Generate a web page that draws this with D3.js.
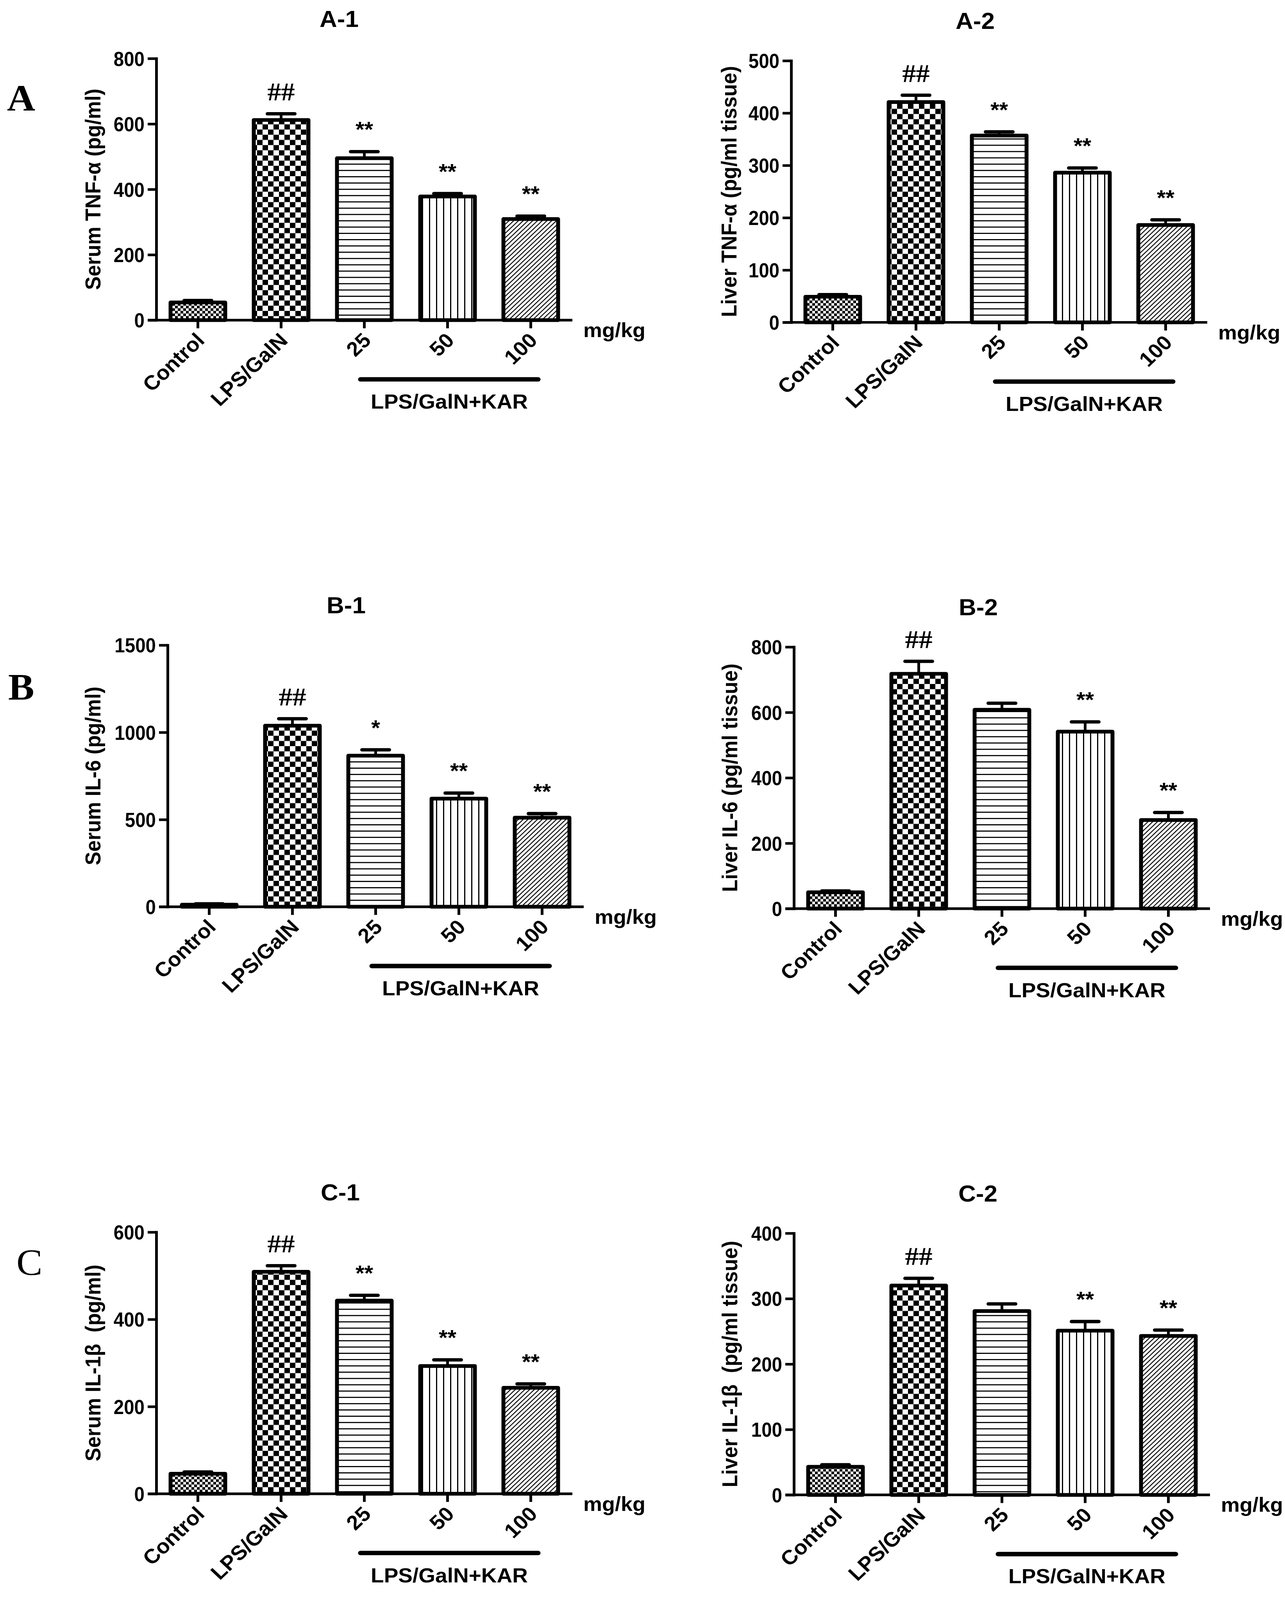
<!DOCTYPE html>
<html>
<head>
<meta charset="utf-8">
<script src="https://cdn.jsdelivr.net/npm/d3@7"></script>
<style>
  html, body { margin: 0; padding: 0; background: #fff; overflow: hidden; }
  svg { display: block; }
</style>
</head>
<body>
<div id="fig"></div>
<script>

// groups on the x axis (same for every panel)
var groups = ["Control", "LPS/GalN", "25", "50", "100"];

// A-1 serum TNF-a
var a1Mean = [54, 612, 495, 378, 309];
var a1Sem  = [6, 19, 20, 9, 9];
var a1Sig  = ["", "##", "**", "**", "**"];
var a1Ticks = [0, 200, 400, 600, 800];

// A-2 liver TNF-a
var a2Mean = [49, 421, 357, 286, 186];
var a2Sem  = [4, 13, 7, 9, 10];
var a2Sig  = ["", "##", "**", "**", "**"];
var a2Ticks = [0, 100, 200, 300, 400, 500];

// B-1 serum IL-6
var b1Mean = [12, 1038, 866, 620, 511];
var b1Sem  = [5, 40, 34, 32, 23];
var b1Sig  = ["", "##", "*", "**", "**"];
var b1Ticks = [0, 500, 1000, 1500];

// B-2 liver IL-6
var b2Mean = [50, 718, 608, 541, 271];
var b2Sem  = [4, 38, 20, 30, 23];
var b2Sig  = ["", "##", "", "**", "**"];
var b2Ticks = [0, 200, 400, 600, 800];

// C-1 serum IL-1b
var c1Mean = [46, 509, 443, 293, 243];
var c1Sem  = [4, 14, 12, 14, 9];
var c1Sig  = ["", "##", "**", "**", "**"];
var c1Ticks = [0, 200, 400, 600];

// C-2 liver IL-1b
var c2Mean = [43, 320, 281, 251, 243];
var c2Sem  = [3, 11, 11, 14, 9];
var c2Sig  = ["", "##", "", "**", "**"];
var c2Ticks = [0, 100, 200, 300, 400];

var fills = ["checkSmall", "checkBig", "hLines", "vLines", "diag"];

/////////////////////////////////////////////////////////////////////

var W = 3289, H = 4323;
var SANS = "'Liberation Sans', Arial, sans-serif";
var SERIF = "'Liberation Serif', 'Times New Roman', serif";

var panels = [
  { title: "A-1", ylab: "Serum TNF-\u03b1 (pg/ml)", mean: a1Mean, sem: a1Sem, sig: a1Sig, ticks: a1Ticks,
    left: 400, zero: 865, titleX: 868, ylabX: 237 },
  { title: "A-2", ylab: "Liver TNF-\u03b1 (pg/ml tissue)", mean: a2Mean, sem: a2Sem, sig: a2Sig, ticks: a2Ticks,
    left: 2025, zero: 871, titleX: 2496, ylabX: 1865 },
  { title: "B-1", ylab: "Serum IL-6 (pg/ml)", mean: b1Mean, sem: b1Sem, sig: b1Sig, ticks: b1Ticks,
    left: 429, zero: 2450, titleX: 886, ylabX: 237 },
  { title: "B-2", ylab: "Liver IL-6 (pg/ml tissue)", mean: b2Mean, sem: b2Sem, sig: b2Sig, ticks: b2Ticks,
    left: 2032, zero: 2455, titleX: 2504, ylabX: 1867 },
  { title: "C-1", ylab: "Serum IL-1\u03b2  (pg/ml)", mean: c1Mean, sem: c1Sem, sig: c1Sig, ticks: c1Ticks,
    left: 400, zero: 4036, titleX: 871, ylabX: 237 },
  { title: "C-2", ylab: "Liver IL-1\u03b2  (pg/ml tissue)", mean: c2Mean, sem: c2Sem, sig: c2Sig, ticks: c2Ticks,
    left: 2032, zero: 4039, titleX: 2503, ylabX: 1867 }
];

// the figure is laid out in 3289 x 4323 units and stretched to the visible window
var vw = window.innerWidth || W, vh = window.innerHeight || H;

var svg = d3.select("#fig").append("svg")
  .attr("width", vw)
  .attr("height", vh)
  .attr("viewBox", "0 0 " + W + " " + H)
  .attr("preserveAspectRatio", "none");

svg.append("rect").attr("width", W).attr("height", H).attr("fill", "#fff");

// fill patterns
var defs = svg.append("defs");

function checker(id, s) {
  var p = defs.append("pattern").attr("id", id)
    .attr("patternUnits", "userSpaceOnUse")
    .attr("width", 2 * s).attr("height", 2 * s);
  p.append("rect").attr("width", 2 * s).attr("height", 2 * s).attr("fill", "#fff");
  p.append("rect").attr("width", s).attr("height", s).attr("fill", "#000");
  p.append("rect").attr("x", s).attr("y", s).attr("width", s).attr("height", s).attr("fill", "#000");
}
checker("checkSmall", 7);
checker("checkBig", 14);

var ph = defs.append("pattern").attr("id", "hLines")
  .attr("patternUnits", "userSpaceOnUse").attr("width", 20).attr("height", 17);
ph.append("rect").attr("width", 20).attr("height", 17).attr("fill", "#fff");
ph.append("rect").attr("y", 0).attr("width", 20).attr("height", 3).attr("fill", "#000");

var pv = defs.append("pattern").attr("id", "vLines")
  .attr("patternUnits", "userSpaceOnUse").attr("width", 18).attr("height", 20);
pv.append("rect").attr("width", 18).attr("height", 20).attr("fill", "#fff");
pv.append("rect").attr("x", 0).attr("width", 3).attr("height", 20).attr("fill", "#000");

var pd = defs.append("pattern").attr("id", "diag")
  .attr("patternUnits", "userSpaceOnUse").attr("width", 8.6).attr("height", 20)
  .attr("patternTransform", "rotate(45)");
pd.append("rect").attr("width", 8.6).attr("height", 20).attr("fill", "#fff");
pd.append("rect").attr("x", 0).attr("width", 2.4).attr("height", 20).attr("fill", "#000");

/////////////////////////////////////////////////////////////////////

function drawPanel(p) {
  var g = svg.append("g");
  var plotH = 707, plotW = 1065;
  var max = p.ticks[p.ticks.length - 1];

  var x = d3.scaleBand()
    .domain(groups)
    .range([p.left, p.left + plotW])
    .paddingInner(0.343)
    .paddingOuter(0.1715);

  var y = d3.scaleLinear()
    .domain([0, max])
    .range([p.zero, p.zero - plotH]);

  var cx = function(i) { return x(groups[i]) + x.bandwidth() / 2; };

  // bars
  g.selectAll("rect.bar")
    .data(p.mean)
    .enter().append("rect")
    .attr("class", "bar")
    .attr("x", function(d, i) { return x(groups[i]); })
    .attr("y", function(d) { return y(d); })
    .attr("width", x.bandwidth())
    .attr("height", function(d) { return y(0) - y(d); })
    .attr("fill", function(d, i) { return "url(#" + fills[i] + ")"; })
    .attr("stroke", "#000")
    .attr("stroke-width", 10)
    .attr("stroke-linejoin", "round");

  // upper error bars
  g.selectAll("line.stem")
    .data(p.mean)
    .enter().append("line")
    .attr("x1", function(d, i) { return cx(i); })
    .attr("x2", function(d, i) { return cx(i); })
    .attr("y1", function(d) { return y(d); })
    .attr("y2", function(d, i) { return y(d + p.sem[i]); })
    .attr("stroke", "#000").attr("stroke-width", 7);

  g.selectAll("line.cap")
    .data(p.mean)
    .enter().append("line")
    .attr("x1", function(d, i) { return cx(i) - 35; })
    .attr("x2", function(d, i) { return cx(i) + 35; })
    .attr("y1", function(d, i) { return y(d + p.sem[i]); })
    .attr("y2", function(d, i) { return y(d + p.sem[i]); })
    .attr("stroke", "#000").attr("stroke-width", 9)
    .attr("stroke-linecap", "round");

  // significance marks
  g.selectAll("text.sig")
    .data(p.sig)
    .enter().append("text")
    .attr("x", function(d, i) { return cx(i); })
    .attr("y", function(d, i) {
      var top = y(p.mean[i] + p.sem[i]);
      return d == "##" ? top - 36 : top - 40;
    })
    .attr("text-anchor", "middle")
    .style("font-family", function(d) { return d == "##" ? SERIF : SANS; })
    .style("font-size", function(d) { return d == "##" ? "70px" : "58px"; })
    .style("font-weight", "bold")
    .text(function(d) { return d; });

  // y axis
  var yAxis = g.append("g")
    .attr("transform", "translate(" + p.left + ",0)")
    .call(d3.axisLeft(y).tickValues(p.ticks).tickSize(22).tickSizeOuter(0).tickFormat(d3.format("d")));
  yAxis.select(".domain").attr("stroke-width", 7).attr("stroke-linecap", "square");
  yAxis.selectAll(".tick line").attr("stroke-width", 7);
  yAxis.selectAll(".tick text")
    .attr("x", -30 / 0.88)
    .attr("dy", "0.36em")
    .attr("transform", "scale(0.88,1)")
    .style("font-family", SANS)
    .style("font-size", "54px")
    .style("font-weight", "bold")
    .attr("fill", "#000");

  // x axis
  var xAxis = g.append("g")
    .attr("transform", "translate(0," + p.zero + ")")
    .call(d3.axisBottom(x).tickSize(22).tickSizeOuter(0));
  xAxis.select(".domain").remove();
  xAxis.append("line")
    .attr("x1", p.left - 22).attr("x2", p.left + plotW)
    .attr("stroke", "#000").attr("stroke-width", 7);
  xAxis.selectAll(".tick line").attr("stroke-width", 7);
  xAxis.selectAll(".tick text")
    .attr("x", 0).attr("y", 0).attr("dy", 0)
    .attr("transform", "translate(20,58) rotate(-45)")
    .style("text-anchor", "end")
    .style("font-family", SANS)
    .style("font-size", "55px")
    .style("font-weight", "bold")
    .attr("fill", "#000");

  // unit label
  g.append("text")
    .attr("x", p.left + plotW + 28)
    .attr("y", p.zero + 46)
    .style("font-family", SANS).style("font-size", "54px").style("font-weight", "bold")
    .text("mg/kg");

  // bracket under the treated groups
  var bx1 = cx(2) - 10, bx2 = cx(4) + 19;
  g.append("line")
    .attr("x1", bx1).attr("x2", bx2)
    .attr("y1", p.zero + 160).attr("y2", p.zero + 160)
    .attr("stroke", "#000").attr("stroke-width", 12)
    .attr("stroke-linecap", "round");
  g.append("text")
    .attr("x", (bx1 + bx2) / 2)
    .attr("y", p.zero + 239)
    .attr("text-anchor", "middle")
    .style("font-family", SANS).style("font-size", "55px").style("font-weight", "bold")
    .text("LPS/GalN+KAR");

  // y axis title
  g.append("text")
    .attr("transform", "translate(" + p.ylabX + "," + (p.zero - plotH / 2) + ") rotate(-90)")
    .attr("dy", "0.36em")
    .attr("text-anchor", "middle")
    .style("white-space", "pre")
    .style("font-family", SANS).style("font-size", "55px").style("font-weight", "bold")
    .text(p.ylab);

  // panel title
  g.append("text")
    .attr("x", p.titleX)
    .attr("y", p.zero - plotH - 108)
    .attr("dy", "0.36em")
    .attr("text-anchor", "middle")
    .style("font-family", SANS).style("font-size", "62px").style("font-weight", "bold")
    .text(p.title);
}

panels.forEach(drawPanel);

// row letters
var rowLetters = [
  { t: "A", x: 18, y: 299, w: "bold" },
  { t: "B", x: 21, y: 1890, w: "bold" },
  { t: "C", x: 42, y: 3445, w: "normal" }
];
svg.selectAll("text.row")
  .data(rowLetters)
  .enter().append("text")
  .attr("x", function(d) { return d.x; })
  .attr("y", function(d) { return d.y; })
  .style("font-family", SERIF)
  .style("font-size", "100px")
  .style("font-weight", function(d) { return d.w; })
  .text(function(d) { return d.t; });

</script>
</body>
</html>
